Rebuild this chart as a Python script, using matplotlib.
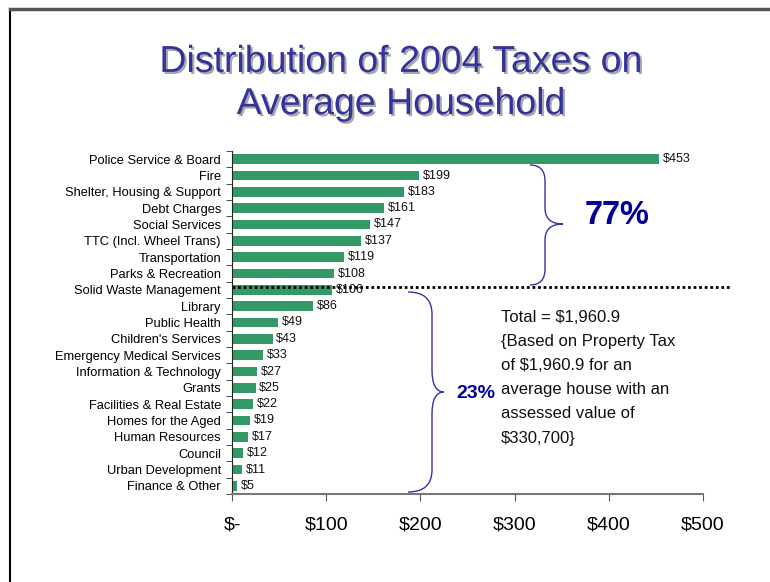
import numpy as np
import matplotlib
matplotlib.use('Agg')
import matplotlib.pyplot as plt
import matplotlib.patheffects as pe
from matplotlib.path import Path
from matplotlib.patches import PathPatch
from matplotlib.lines import Line2D

plt.rcParams['font.family'] = ['Liberation Sans', 'DejaVu Sans']

categories = ["Police Service & Board", "Fire", "Shelter, Housing & Support",
              "Debt Charges", "Social Services", "TTC (Incl. Wheel Trans)",
              "Transportation", "Parks & Recreation", "Solid Waste Management",
              "Library", "Public Health", "Children's Services",
              "Emergency Medical Services", "Information & Technology", "Grants",
              "Facilities & Real Estate", "Homes for the Aged", "Human Resources",
              "Council", "Urban Development", "Finance & Other"]
values = [453, 199, 183, 161, 147, 137, 119, 108, 106, 86, 49, 43, 33, 27,
          25, 22, 19, 17, 12, 11, 5]
xticks = [0, 100, 200, 300, 400, 500]
xtick_labels = ["$-", "$100", "$200", "$300", "$400", "$500"]
note_lines = ["Total = $1,960.9", "{Based on Property Tax", "of $1,960.9 for an",
              "average house with an", "assessed value of", "$330,700}"]

W, H = 770, 582
fig = plt.figure(figsize=(W / 100, H / 100), dpi=100)


def fp(px, py):
    # image pixel -> figure fraction
    return px / W, 1 - py / H


ax = fig.add_axes([232 / W, 1 - 494 / H, 471 / W, 343 / H])
y = np.arange(len(categories))
ax.barh(y, values, height=0.6, color="#339966")
ax.set_ylim(len(categories) - 0.5, -0.5)
ax.set_xlim(0, 500)

for yi, v in zip(y, values):
    ax.text(v + 4, yi, f"${v}", va="center", ha="left", fontsize=9, color="#111111")

ax.set_yticks(y)
ax.set_yticklabels(categories, fontsize=9.3)
ax.tick_params(axis="y", length=0, pad=8)
ax.set_yticks(np.arange(len(categories) + 1) - 0.5, minor=True)
ax.tick_params(axis="y", which="minor", length=4, color="#333333")

ax.set_xticks(xticks)
ax.set_xticklabels(xtick_labels, fontsize=14)
ax.tick_params(axis="x", length=5, color="#555555", pad=11)

for s in ["top", "right"]:
    ax.spines[s].set_visible(False)
ax.spines["left"].set_color("#222222")
ax.spines["bottom"].set_color("#777777")
ax.spines["bottom"].set_linewidth(1.5)

# dotted divider between top group and the rest
ax.plot([0, 529], [7.8, 7.8], color="black", lw=2, ls=(0, (1, 1)), clip_on=False)


def brace(x0, xm, xt, y0, y1, ym, r):
    pts = [(x0, y0), (xm, y0), (xm, y0 + r), (xm, ym - r), (xm, ym), (xt, ym),
           (xm, ym), (xm, ym + r), (xm, y1 - r), (xm, y1), (x0, y1)]
    codes = [Path.MOVETO, Path.CURVE3, Path.CURVE3, Path.LINETO, Path.CURVE3,
             Path.CURVE3, Path.CURVE3, Path.CURVE3, Path.LINETO, Path.CURVE3,
             Path.CURVE3]
    path = Path([fp(*p) for p in pts], codes)
    fig.add_artist(PathPatch(path, fill=False, edgecolor="#3333aa", lw=1,
                             transform=fig.transFigure))


brace(530, 545, 563, 165, 285, 224, 16)
brace(408, 432, 444, 292, 492, 392, 22)

fig.text(*fp(617, 216), "77%", fontsize=23.5, fontweight="bold", color="#000099",
         ha="center", va="center")
fig.text(*fp(476, 394), "23%", fontsize=14, fontweight="bold", color="#000099",
         ha="center", va="center")

for i, line in enumerate(note_lines):
    fig.text(*fp(501, 317 + i * 24.2), line, fontsize=12, color="#111111",
             ha="left", va="center")

# title with soft shadow
shadow = [pe.SimplePatchShadow(offset=(1.5, -1.5), shadow_rgbFace="#a8a8a8", alpha=1),
          pe.Normal()]
fig.text(*fp(401, 83), "Distribution of 2004 Taxes on\nAverage Household",
         fontsize=27, color="#333399", ha="center", va="center",
         linespacing=1.22, path_effects=shadow)

# slide frame
fig.add_artist(Line2D([10 / W, 10 / W], [0, 1 - 9 / H], color="black", lw=1.5,
                      transform=fig.transFigure))
fig.add_artist(Line2D([10 / W, 1], [1 - 9 / H, 1 - 9 / H], color="#555555", lw=2.5,
                      transform=fig.transFigure))

plt.savefig("out.png", dpi=100)
plt.close()
